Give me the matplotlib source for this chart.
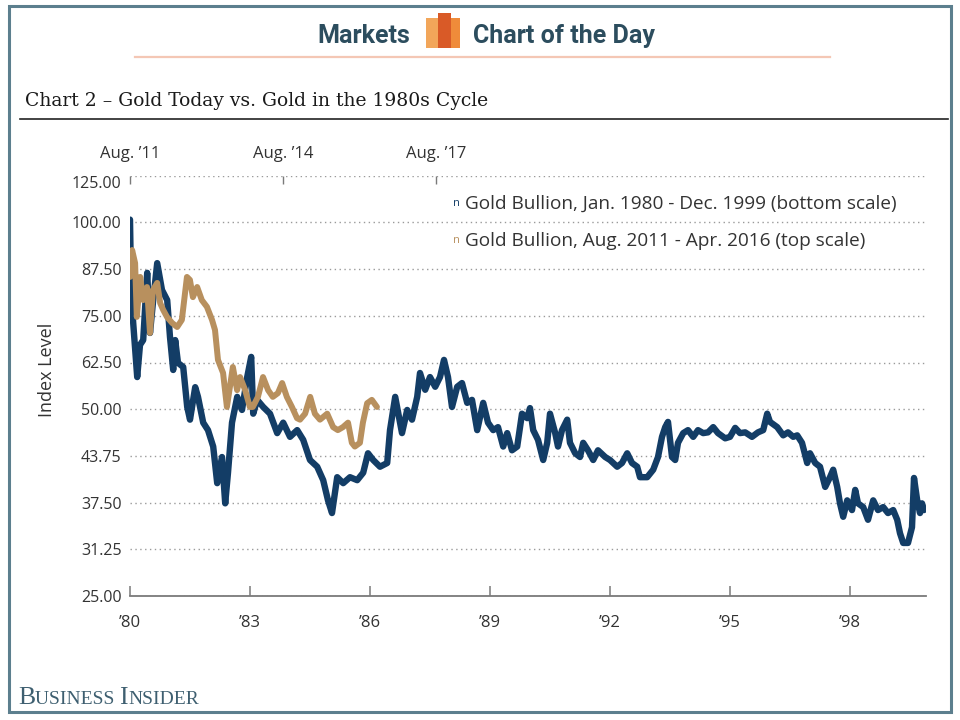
import numpy as np
import matplotlib.pyplot as plt
from matplotlib.patches import Rectangle
from matplotlib.lines import Line2D

# gold bullion Jan 1980 - Dec 1999, bottom scale (decimal years)
blue_x = [1980.00, 1980.03, 1980.08, 1980.18, 1980.25, 1980.33, 1980.43, 1980.50, 1980.58, 1980.68,
          1980.80, 1980.93, 1981.00, 1981.08, 1981.13, 1981.20, 1981.33, 1981.43, 1981.50, 1981.63,
          1981.70, 1981.83, 1981.95, 1982.08, 1982.18, 1982.30, 1982.38, 1982.45, 1982.55, 1982.68,
          1982.80, 1982.93, 1983.03, 1983.08, 1983.18, 1983.33, 1983.50, 1983.68, 1983.83, 1984.00,
          1984.18, 1984.33, 1984.50, 1984.68, 1984.83, 1984.95, 1985.05, 1985.18, 1985.33, 1985.50,
          1985.68, 1985.83, 1985.95, 1986.08, 1986.25, 1986.43, 1986.50, 1986.63, 1986.80, 1986.93,
          1987.05, 1987.18, 1987.25, 1987.38, 1987.50, 1987.63, 1987.75, 1987.85, 1987.95, 1988.05,
          1988.18, 1988.30, 1988.43, 1988.55, 1988.68, 1988.83, 1988.95, 1989.08, 1989.20, 1989.33,
          1989.43, 1989.55, 1989.68, 1989.80, 1989.93, 1990.00, 1990.08, 1990.20, 1990.33, 1990.43,
          1990.50, 1990.63, 1990.70, 1990.80, 1990.93, 1991.00, 1991.13, 1991.25, 1991.33, 1991.45,
          1991.58, 1991.70, 1991.88, 1992.00, 1992.18, 1992.30, 1992.43, 1992.55, 1992.68, 1992.75,
          1992.93, 1993.08, 1993.20, 1993.30, 1993.38, 1993.45, 1993.55, 1993.63, 1993.70, 1993.83,
          1993.95, 1994.08, 1994.20, 1994.33, 1994.45, 1994.58, 1994.70, 1994.88, 1995.00, 1995.13,
          1995.25, 1995.38, 1995.55, 1995.70, 1995.83, 1995.93, 1996.00, 1996.18, 1996.33, 1996.45,
          1996.58, 1996.68, 1996.80, 1996.93, 1997.00, 1997.13, 1997.25, 1997.38, 1997.50, 1997.58,
          1997.68, 1997.75, 1997.83, 1997.93, 1998.05, 1998.13, 1998.20, 1998.33, 1998.45, 1998.58,
          1998.70, 1998.83, 1998.95, 1999.08, 1999.18, 1999.25, 1999.33, 1999.45, 1999.55, 1999.60,
          1999.68, 1999.75, 1999.80, 1999.85]
blue_y = [101.5, 81.1, 73.1, 58.6, 67.2, 68.5, 86.5, 70.4, 79.2, 89.1,
          81.9, 79.2, 69.3, 60.5, 68.5, 62.4, 61.3, 50.6, 48.6, 55.9,
          53.3, 48.2, 47.2, 45.0, 40.1, 43.6, 37.4, 41.5, 48.2, 53.3,
          49.9, 58.6, 64.0, 49.4, 52.5, 50.6, 49.4, 46.8, 48.2, 46.3,
          47.2, 45.9, 43.2, 42.3, 40.5, 37.8, 36.1, 40.9, 40.1, 40.9,
          40.5, 41.5, 44.1, 43.2, 42.3, 42.8, 47.2, 53.3, 46.8, 49.9,
          48.6, 53.3, 59.7, 55.2, 58.6, 56.0, 58.6, 63.2, 58.6, 50.6,
          56.0, 57.0, 51.7, 52.5, 47.2, 51.7, 48.2, 47.2, 47.6, 45.0,
          46.8, 44.5, 45.0, 49.4, 48.8, 50.3, 47.2, 45.9, 43.2, 45.5,
          49.4, 46.8, 45.0, 47.2, 48.6, 45.5, 44.1, 43.6, 45.5, 44.5,
          43.2, 44.5, 43.6, 43.2, 42.3, 42.8, 44.1, 42.8, 42.3, 40.9,
          40.9, 41.9, 43.6, 46.3, 47.6, 48.3, 43.6, 43.2, 45.5, 46.8,
          47.2, 46.3, 47.2, 46.8, 46.9, 47.6, 46.8, 46.1, 46.3, 47.5,
          46.8, 46.9, 46.3, 46.9, 47.2, 49.4, 48.3, 47.6, 46.5, 46.9,
          46.3, 46.5, 45.5, 42.8, 44.1, 42.8, 42.3, 39.6, 40.9, 41.9,
          39.6, 37.4, 35.6, 37.8, 36.5, 39.2, 37.4, 36.9, 35.2, 37.8,
          36.5, 36.9, 36.1, 36.5, 35.2, 33.4, 32.1, 32.1, 34.2, 40.8,
          37.8, 36.1, 37.4, 36.5]

# gold bullion Aug 2011 - Apr 2016, top scale (months since Aug 2011)
tan_x = [0, 0.5, 1.2, 1.6, 2.4, 3.1, 4.0, 4.7, 5.4, 6.4,
         7.1, 7.8, 8.7, 9.9, 11.1, 12.2, 13.4, 14.1, 14.8, 15.8,
         16.9, 18.1, 19.3, 20.0, 20.7, 21.9, 22.8, 23.5, 24.2, 25.2,
         25.9, 27.1, 28.2, 28.9, 30.1, 31.3, 32.5, 33.6, 34.8, 35.8,
         36.9, 38.1, 39.3, 40.0, 41.2, 42.4, 43.5, 44.7, 46.4, 47.8,
         48.9, 50.1, 51.3, 52.2, 52.9, 54.1, 54.8, 55.8, 56.9, 58.1]
tan_y = [85.4, 92.6, 89.1, 74.7, 85.4, 79.2, 82.7, 70.4, 81.9, 83.8,
         78.4, 76.6, 74.7, 73.1, 72.0, 73.9, 85.4, 84.6, 80.0, 82.7,
         79.2, 77.4, 73.9, 71.2, 63.2, 59.7, 50.6, 55.9, 61.3, 55.1,
         58.6, 55.1, 50.6, 50.6, 53.3, 58.6, 55.1, 53.3, 54.3, 57.0,
         53.3, 50.6, 48.8, 48.6, 49.4, 53.3, 49.4, 48.6, 49.4, 47.6,
         47.2, 47.6, 48.2, 45.5, 45.0, 45.5, 48.2, 51.6, 52.5, 50.6]

y_levels = [25.0, 31.25, 37.5, 43.75, 50.0, 62.5, 75.0, 87.5, 100.0, 125.0]
y_steps = list(range(len(y_levels)))
bottom_ticks = [1980, 1983, 1986, 1989, 1992, 1995, 1998]
bottom_labels = ["\u201980", "\u201983", "\u201986", "\u201989", "\u201992", "\u201995", "\u201998"]
top_ticks = [0, 36, 72]
top_labels = ["Aug. \u201911", "Aug. \u201914", "Aug. \u201917"]
legend_labels = ["Gold Bullion, Jan. 1980 - Dec. 1999 (bottom scale)",
                 "Gold Bullion, Aug. 2011 - Apr. 2016 (top scale)"]

BLUE = "#133d66"
TAN = "#b8905e"
GREY = "#333333"
W, H = 960, 720


def fx(px):
    return px / W


def fy(py):
    return 1 - py / H


fig = plt.figure(figsize=(9.6, 7.2), dpi=100)
fig.patch.set_facecolor("white")

# outer frame
fig.patches.append(Rectangle((fx(9), fy(712)), fx(942), 706 / H, transform=fig.transFigure,
                             fill=False, edgecolor="#5c7f8e", linewidth=2.2))

# header
fig.text(fx(410), fy(36), "Markets", ha="right", va="center", fontsize=18,
         fontweight="bold", family="Roboto", color="#2c4d5e")
fig.text(fx(473), fy(36), "Chart of the Day", ha="left", va="center", fontsize=18,
         fontweight="bold", family="Roboto", color="#2c4d5e")
fig.patches.append(Rectangle((fx(426), fy(48)), fx(16), 30 / H, transform=fig.transFigure,
                             facecolor="#f2a65a", edgecolor="none"))
fig.patches.append(Rectangle((fx(450), fy(48)), fx(10), 30 / H, transform=fig.transFigure,
                             facecolor="#ef8b3a", edgecolor="none"))
fig.patches.append(Rectangle((fx(438), fy(48)), fx(13), 35 / H, transform=fig.transFigure,
                             facecolor="#d95a27", edgecolor="none"))
fig.lines.append(Line2D([fx(135), fx(830)], [fy(57), fy(57)], transform=fig.transFigure,
                        color="#f4c7b5", linewidth=1.6))

fig.text(fx(25), fy(101), "Chart 2 \u2013 Gold Today vs. Gold in the 1980s Cycle", ha="left",
         va="center", fontsize=13.5, family="DejaVu Serif", color="#1a1a1a")
fig.lines.append(Line2D([fx(20), fx(948)], [fy(118.5), fy(118.5)], transform=fig.transFigure,
                        color="#222222", linewidth=1.2))

# plot area
ax = fig.add_axes([fx(130), fy(596), fx(796), (596 - 175.7) / H])


def fwd(v):
    return np.interp(v, y_levels, y_steps)


def inv(p):
    return np.interp(p, y_steps, y_levels)


ax.set_yscale("function", functions=(fwd, inv))
ax.plot(blue_x, blue_y, color=BLUE, linewidth=4.6, solid_joinstyle="round", solid_capstyle="round")
ax.set_xlim(1980, 1980 + 796 / 40)
ax.set_ylim(25, 125)
ax.set_yticks(y_levels)
ax.set_yticklabels(["%.2f" % v for v in y_levels])
ax.set_xticks(bottom_ticks)
ax.set_xticklabels(bottom_labels)
ax.yaxis.grid(True, linestyle=(0, (1, 2.5)), color="#9a9a9a", linewidth=1)
ax.tick_params(axis="y", length=0, pad=6, labelsize=11.5, labelcolor=GREY)
ax.tick_params(axis="x", direction="in", length=7, width=1.1, color="#7a7a7a", pad=14,
               labelsize=12, labelcolor=GREY)
for s in ["left", "right", "top"]:
    ax.spines[s].set_visible(False)
ax.spines["bottom"].set_color("#7a7a7a")
ax.spines["bottom"].set_linewidth(1.3)
for lab in ax.get_xticklabels() + ax.get_yticklabels():
    lab.set_family("Open Sans")
ax.get_yticklabels()[-1].set_va("top")

ax2 = ax.twiny()
ax2.plot(tan_x, tan_y, color=TAN, linewidth=4.3, solid_joinstyle="round", solid_capstyle="round")
ax2.set_xlim(0, 796 / 4.25)
ax2.set_xticks(top_ticks)
ax2.set_xticklabels(top_labels, family="Open Sans")
ax2.tick_params(axis="x", direction="in", length=6, width=1, color="#7a7a7a", pad=10,
                labelsize=12, labelcolor=GREY)
for s in ax2.spines.values():
    s.set_visible(False)

fig.text(fx(47), fy(370), "Index Level", rotation=90, ha="center", va="center",
         fontsize=13, family="Open Sans", color=GREY)

# legend
for i, (lab, col) in enumerate(zip(legend_labels, [BLUE, TAN])):
    yy = fy(204 + 37 * i)
    fig.text(fx(453), yy, "n", ha="left", va="center", fontsize=8, family="Open Sans", color=col)
    fig.text(fx(465), yy, lab, ha="left", va="center", fontsize=13.7, family="Open Sans",
             color=GREY)

# footer in small caps
renderer = fig.canvas.get_renderer()
xpos = 18
for part, size in [("B", 18.5), ("USINESS ", 14), ("I", 18.5), ("NSIDER", 14)]:
    t = fig.text(fx(xpos), fy(704), part, ha="left", va="baseline", fontsize=size,
                 family="Liberation Serif", color="#3e5f70")
    xpos += t.get_window_extent(renderer).width

fig.savefig("out.png", dpi=100)
